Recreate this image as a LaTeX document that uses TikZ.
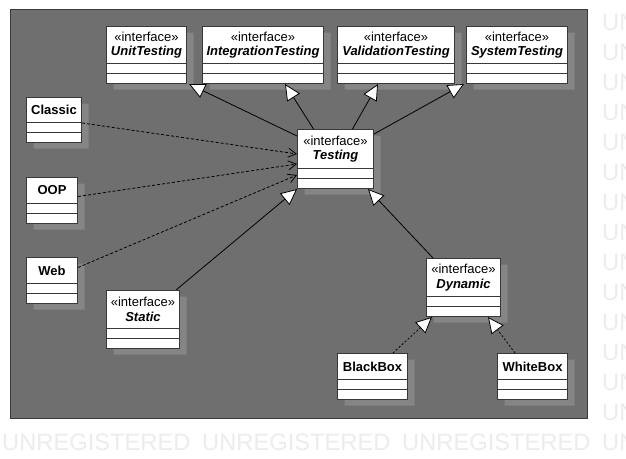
\documentclass[tikz,border=0pt]{standalone}
\usepackage{fontspec}
\setmainfont{Liberation Sans}
\usetikzlibrary{shapes.multipart,arrows.meta,shadows,positioning,calc}
\definecolor{panel}{HTML}{6F6F6F}
\definecolor{panelline}{HTML}{3A3A3A}
\definecolor{shade}{HTML}{858585}
\definecolor{boxline}{HTML}{383838}
\definecolor{wmark}{HTML}{ECECEC}
\newcommand\ifchead[3]{\vbox to #2pt{\offinterlineskip\vss\hbox to #1pt{\hss«interface»\hss}\kern5pt\hbox to #1pt{\hss\textbf{\textit{#3}}\hss}\vss}}
\newcommand\clshead[3]{\vbox to #2pt{\vss\hbox to #1pt{\hss\textbf{#3}\hss}\vss}}
\tikzset{
	cls/.style={rectangle split, rectangle split parts=3, draw=boxline, line width=1pt, fill=white, inner sep=0pt,
		rectangle split empty part height=9pt, rectangle split empty part depth=0pt, rectangle split empty part width=0pt,
		anchor=north west, font=\fontsize{13}{15}\selectfont,
		drop shadow={shadow xshift=7pt, shadow yshift=-6pt, opacity=1, fill=shade, draw=none}},
	gen/.style={line width=0.8pt, -{Triangle[length=16pt,width=15pt,fill=white]}},
	real/.style={gen, dash pattern=on 2pt off 2pt},
	dep/.style={line width=0.8pt, dash pattern=on 3pt off 2pt, -{Straight Barb[length=8pt,width=9pt]}},
	wm/.style={anchor=base west, text=wmark, inner sep=0pt, font=\fontsize{23.7}{24}\selectfont},
}
\begin{document}
\begin{tikzpicture}[x=1pt,y=-1pt]
	\useasboundingbox (0,0) rectangle (626,458);
	\foreach \c in {-1,0,1,2}
		\node[wm] (wm-0-\c) at (2+200*\c,450) {UNREGISTERED};
	\foreach \r in {0,...,14}
		\node[wm] (wm-\r-3) at (602,450-30*\r) {UNREGISTERED};
	\draw[panelline, fill=panel, line width=1pt] (10,9) rectangle (587,418);

	\node[cls] (unit) at (106,26) {\ifchead{80}{36}{UnitTesting}};
	\node[cls] (integ) at (202,26) {\ifchead{121}{36}{IntegrationTesting}};
	\node[cls] (valid) at (337,26) {\ifchead{117}{36}{ValidationTesting}};
	\node[cls] (syst) at (466,26) {\ifchead{101}{36}{SystemTesting}};
	\node[cls] (tst) at (297,129) {\ifchead{76}{38}{Testing}};
	\node[cls] (classic) at (26,97) {\clshead{55}{24}{Classic}};
	\node[cls] (oop) at (26,177) {\clshead{51}{25}{OOP}};
	\node[cls] (web) at (26,257) {\clshead{51}{25}{Web}};
	\node[cls] (static) at (106,290) {\ifchead{73}{37}{Static}};
	\node[cls] (dyn) at (426,258) {\ifchead{74}{37}{Dynamic}};
	\node[cls] (black) at (337,353) {\clshead{70}{25}{BlackBox}};
	\node[cls] (white) at (497,353) {\clshead{70}{25}{WhiteBox}};

	\draw[gen] ([yshift=-7]tst.north west) -- ([xshift=2]unit.south east);
	\draw[gen] ([xshift=-22]tst.north) -- ([xshift=22]integ.south);
	\draw[gen] ([xshift=17]tst.north) -- ([xshift=-18]valid.south);
	\draw[gen] ([yshift=-5]tst.north east) -- ([xshift=-2]syst.south west);
	\draw[dep] ([yshift=-3]classic.east) -- ([yshift=5]tst.west);
	\draw[dep] ([yshift=4]oop.east) -- ([yshift=-5]tst.west);
	\draw[dep] ([yshift=13]web.east) -- ([yshift=-16]tst.west);
	\draw[gen] ([xshift=-4]static.north east) -- (tst.south west);
	\draw[gen] ([xshift=7]dyn.north west) -- ([xshift=-6]tst.south east);
	\draw[real] ([xshift=-15]black.north east) -- ([xshift=6]dyn.south west);
	\draw[real] ([xshift=18]white.north west) -- ([xshift=-13]dyn.south east);
\end{tikzpicture}
\end{document}
